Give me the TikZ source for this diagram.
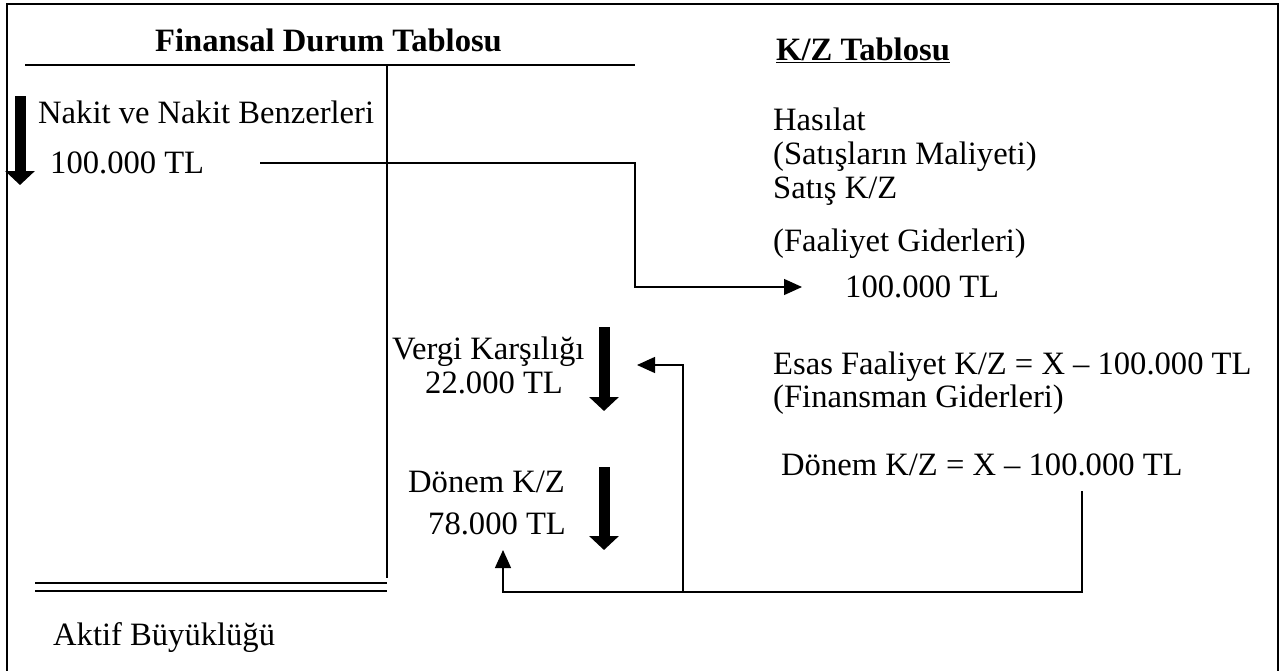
\documentclass[tikz,border=0pt]{standalone}
\usepackage{fontspec}
\setmainfont{Liberation Serif}
\usetikzlibrary{arrows.meta}
\tikzset{
  txt/.style={anchor=base west, inner sep=0pt, font=\fontsize{32.6}{38}\selectfont},
  head/.style={anchor=base west, inner sep=0pt, font=\fontsize{32.6}{38}\selectfont\bfseries},
  conn/.style={line width=1.3pt, -{Triangle[length=18pt,width=16pt]}},
  plain/.style={line width=1.3pt},
  fat/.style={line width=11pt, -{Triangle[length=14pt,width=29pt]}},
  rule/.style={line width=2.4pt}
}
\begin{document}
\begin{tikzpicture}[x=1pt,y=-1pt]
\useasboundingbox (0,0) rectangle (1280,670);
% frame
\draw[line width=2pt] (7,4) rectangle (1278,680);
% headings
\node[head] (fdt) at (155,51) {Finansal Durum Tablosu};
\node[head] (kzt) at (776,60) {\underline{K/Z Tablosu}};
% balance sheet rules
\coordinate (hl) at (25,65);
\coordinate (hr) at (635,65);
\draw[rule] (hl) -- (hr);
\coordinate (vt) at (387,65);
\coordinate (vb) at (387,578);
\draw[rule] (vt) -- (vb);
\coordinate (d1l) at (35,583); \coordinate (d1r) at (387,583);
\coordinate (d2l) at (35,591); \coordinate (d2r) at (387,591);
\draw[rule] (d1l) -- (d1r);
\draw[rule] (d2l) -- (d2r);
% left texts
\node[txt] (nakit) at (38,123) {Nakit ve Nakit Benzerleri};
\node[txt] (cash) at (50,173) {100.000 TL};
\node[txt] (aktif) at (53,645) {Aktif Büyüklüğü};
\node[txt] (vergi) at (392,359) {Vergi Karşılığı};
\node[txt] (vergiv) at (425,393) {22.000 TL};
\node[txt] (donem) at (408,492) {Dönem K/Z};
\node[txt] (donemv) at (428,534) {78.000 TL};
% right texts
\node[txt] (has) at (773,130) {Hasılat};
\node[txt] (sm) at (773,164) {(Satışların Maliyeti)};
\node[txt] (skz) at (773,198) {Satış K/Z};
\node[txt] (fg) at (773,251) {(Faaliyet Giderleri)};
\node[txt] (fgv) at (845,297) {100.000 TL};
\node[txt] (esas) at (773,374) {Esas Faaliyet K/Z = X – 100.000 TL};
\node[txt] (fin) at (773,407) {(Finansman Giderleri)};
\node[txt] (dkz) at (781,475) {Dönem K/Z = X – 100.000 TL};
% thick arrows
\coordinate (a1t) at (20,96); \coordinate (a1b) at (20,185);
\draw[fat] (a1t) -- (a1b);
\coordinate (a2t) at (604,327); \coordinate (a2b) at (604,411);
\draw[fat] (a2t) -- (a2b);
\coordinate (a3t) at (604,467); \coordinate (a3b) at (604,550);
\draw[fat] (a3t) -- (a3b);
% connector: cash to operating expenses
\coordinate (c1s) at (260,163);
\coordinate (c1b1) at (635,163);
\coordinate (c1b2) at (635,287);
\coordinate (c1e) at (802,287);
\draw[conn] (c1s) -- (c1b1) -- (c1b2) -- (c1e);
% connector: period profit to balance sheet
\coordinate (c2s) at (1082,491);
\coordinate (c2b) at (1082,592);
\coordinate (c2j) at (683,592);
\coordinate (c2l) at (503,592);
\coordinate (c2e) at (503,550);
\draw[conn] (c2s) -- (c2b) -- (c2l) -- (c2e);
\coordinate (c3b) at (683,365);
\coordinate (c3e) at (637,365);
\draw[conn] (c2j) -- (c3b) -- (c3e);
\end{tikzpicture}
\end{document}
